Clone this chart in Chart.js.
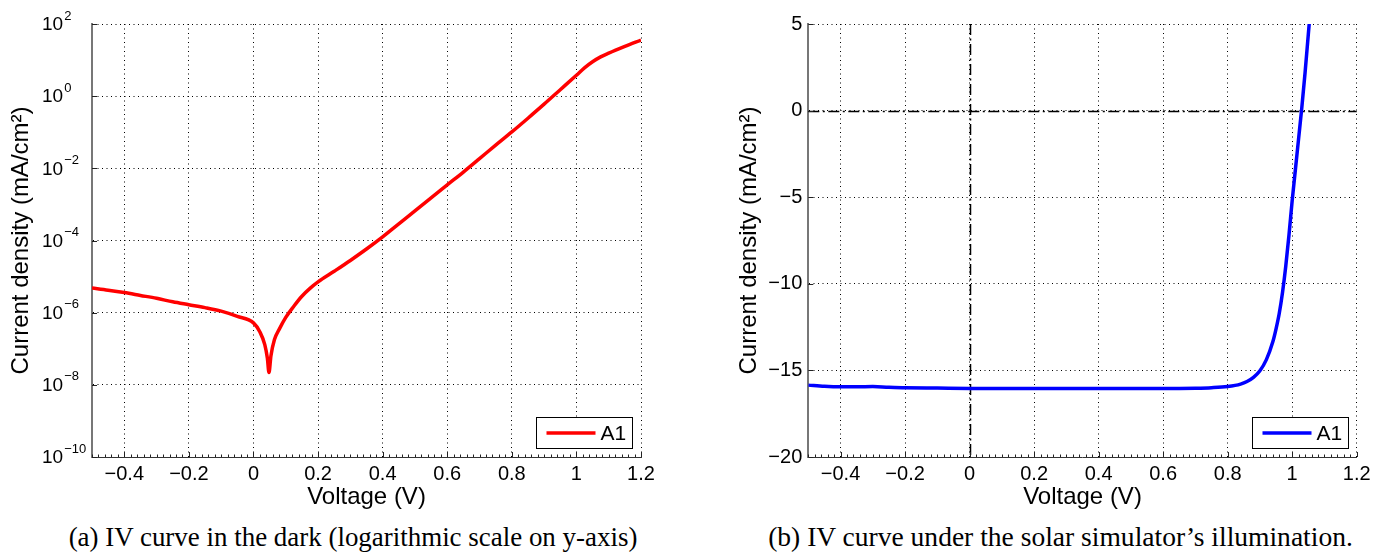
<!DOCTYPE html>
<html><head><meta charset="utf-8">
<script src="https://cdn.jsdelivr.net/npm/chart.js@4.4.0/dist/chart.umd.min.js"></script>
<style>
html,body{margin:0;padding:0;background:#fff;width:1380px;height:560px;overflow:hidden;}
.box{position:absolute;top:0;height:515px;}
#boxA{left:0;width:680px;}
#boxB{left:690px;width:690px;}
.cap{position:absolute;top:524px;white-space:nowrap;font-family:"Liberation Serif","Times New Roman",serif;font-size:22px;line-height:26px;color:#000;}
</style></head><body>
<div id="boxA" class="box"><canvas id="cA" width="680" height="515"></canvas></div>
<div id="boxB" class="box"><canvas id="cB" width="690" height="515"></canvas></div>
<div id="capA" class="cap">(a) IV curve in the dark (logarithmic scale on y-axis)</div>
<div id="capB" class="cap">(b) IV curve under the solar simulator’s illumination.</div>
<script>
// ---- data ----
const seriesLabel = 'A1';
const voltageDark = [-0.5,-0.45,-0.4,-0.35,-0.3,-0.25,-0.2,-0.15,-0.1,-0.05,0,0.02,0.035,0.043,0.048,0.054,0.065,0.08,0.1,0.125,0.15,0.175,0.2,0.25,0.3,0.35,0.4,0.45,0.5,0.55,0.6,0.65,0.7,0.75,0.8,0.85,0.9,0.95,1.0,1.025,1.05,1.075,1.1,1.15,1.2];
const currentDark = [4.8e-6,4.2e-6,3.6e-6,3.0e-6,2.5e-6,2.0e-6,1.66e-6,1.38e-6,1.1e-6,7.9e-7,5.2e-7,2.9e-7,1.3e-7,5.5e-8,2.2e-8,6.3e-8,1.8e-7,3.5e-7,7.4e-7,1.51e-6,2.85e-6,4.7e-6,7.1e-6,1.4e-5,2.8e-5,5.8e-5,1.26e-4,2.9e-4,6.6e-4,1.51e-3,3.47e-3,7.9e-3,1.86e-2,4.4e-2,0.102,0.245,0.6,1.51,3.8,6.1,9.0,12.3,15.6,24,36];
const voltageLight = [-0.5,-0.45,-0.4,-0.35,-0.3,-0.25,-0.2,-0.1,0,0.1,0.2,0.3,0.4,0.5,0.6,0.7,0.75,0.8,0.84,0.86,0.88,0.9,0.92,0.94,0.95,0.96,0.97,0.98,0.99,1.0,1.01,1.02,1.03,1.04,1.05,1.06];
const currentLight = [-15.85,-15.92,-15.95,-15.95,-15.93,-15.98,-16.0,-16.02,-16.04,-16.05,-16.05,-16.04,-16.04,-16.05,-16.05,-16.03,-16.0,-15.93,-15.79,-15.64,-15.4,-15.02,-14.38,-13.35,-12.6,-11.7,-10.5,-9.0,-7.2,-5.2,-3.4,-1.6,0.2,2.2,4.4,6.6];
const xTickValues = [-0.4,-0.2,0,0.2,0.4,0.6,0.8,1,1.2];
const logTickValues = [1e-10,1e-8,1e-6,1e-4,1e-2,1,100];
const linTickValues = [-20,-15,-10,-5,0,5];
const xMinorStep = 0.02;

// ---- styling helpers ----
const SANS = '"Liberation Sans", Arial, Helvetica, sans-serif';
const TICK_SIZE = 20, TITLE_SIZE = 24;
const minus = s => String(s).replace('-', '\u2212');
const pts = (xs, ys) => xs.map((v, i) => ({x: v, y: ys[i]}));

const deco = {
  id: 'deco',
  beforeDatasetsDraw(chart, args, opts) {
    if (!opts.refLines) return;
    const {ctx, chartArea: a, scales: {x, y}} = chart;
    ctx.save();
    ctx.strokeStyle = '#000'; ctx.lineWidth = 1.5; ctx.setLineDash([11, 3.5, 2, 3.5]);
    const y0 = Math.round(y.getPixelForValue(0)) + 0.5, x0 = Math.round(x.getPixelForValue(0)) + 0.5;
    ctx.beginPath(); ctx.moveTo(a.left, y0); ctx.lineTo(a.right, y0); ctx.stroke();
    ctx.beginPath(); ctx.moveTo(x0, a.top); ctx.lineTo(x0, a.bottom); ctx.stroke();
    ctx.restore();
  },
  afterDraw(chart, args, opts) {
    const {ctx, chartArea: a, scales: {x, y}} = chart;
    ctx.save();
    ctx.setLineDash([]);
    ctx.strokeStyle = '#222'; ctx.lineWidth = 1;
    ctx.beginPath();
    x.ticks.forEach(t => { const px = Math.round(x.getPixelForValue(t.value)) + 0.5; ctx.moveTo(px, a.bottom); ctx.lineTo(px, a.bottom - 5); });
    const n = Math.round((x.max - x.min) / xMinorStep);
    for (let i = 0; i <= n; i++) {
      const px = Math.round(x.getPixelForValue(x.min + i * xMinorStep)) + 0.5;
      ctx.moveTo(px, a.bottom); ctx.lineTo(px, a.bottom - 2.5);
    }
    y.ticks.forEach(t => { const py = Math.round(y.getPixelForValue(t.value)) + 0.5; ctx.moveTo(a.left, py); ctx.lineTo(a.left + 5, py); });
    ctx.stroke();

    if (opts.logLabels) {
      ctx.fillStyle = '#000'; ctx.textAlign = 'left'; ctx.textBaseline = 'middle';
      y.ticks.forEach(t => {
        const py = y.getPixelForValue(t.value);
        const e = Math.round(Math.log10(t.value));
        ctx.font = '19px ' + SANS;
        ctx.fillText('10', 42, py + 1);
        const w = ctx.measureText('10').width;
        ctx.font = '13px ' + SANS;
        ctx.fillText(minus(e), 42 + w + 1, py - 8);
      });
    }

    // legend box
    const ds = chart.data.datasets[0];
    const bw = 96, bh = 31;
    const bx = Math.round(a.right - 9 - bw) + 0.5, by = Math.round(a.bottom - 9 - bh) + 0.5;
    ctx.fillStyle = '#fff'; ctx.fillRect(bx, by, bw, bh);
    ctx.strokeStyle = '#000'; ctx.lineWidth = 1; ctx.strokeRect(bx, by, bw, bh);
    ctx.strokeStyle = ds.borderColor; ctx.lineWidth = 3.5;
    ctx.beginPath(); ctx.moveTo(bx + 10, by + bh / 2); ctx.lineTo(bx + 59, by + bh / 2); ctx.stroke();
    ctx.fillStyle = '#000'; ctx.font = '21px ' + SANS; ctx.textAlign = 'left'; ctx.textBaseline = 'middle';
    ctx.fillText(ds.label, bx + 64, by + bh / 2 + 1);
    ctx.restore();
  }
};

function xScale(titlePadBottom) {
  return {
    type: 'linear', min: -0.5, max: 1.2,
    afterBuildTicks: s => { s.ticks = xTickValues.map(v => ({value: v})); },
    afterFit: s => { s.height = 58; },
    grid: {color: '#000', lineWidth: 1, drawTicks: false},
    border: {display: true, color: '#333', width: 1, dash: [1, 3.5]},
    ticks: {padding: 5, color: '#000', font: {family: SANS, size: TICK_SIZE}, maxRotation: 0, autoSkip: false,
      callback: v => minus(+(+v).toFixed(1))},
    title: {display: true, text: 'Voltage (V)', color: '#000', font: {family: SANS, size: TITLE_SIZE}, padding: {top: 0, bottom: titlePadBottom}}
  };
}

function baseOptions(padRight, yScaleCfg, decoOpts) {
  return {
    responsive: false, animation: false, events: [],
    layout: {padding: {top: 24, right: padRight, left: 0, bottom: 0}},
    plugins: {legend: {display: false}, tooltip: {enabled: false}, deco: decoOpts},
    scales: {x: xScale(3), y: yScaleCfg}
  };
}

new Chart(document.getElementById('cA'), {
  type: 'line',
  data: {datasets: [{label: seriesLabel, data: pts(voltageDark, currentDark), borderColor: '#ff0000', borderWidth: 3.5,
    pointRadius: 0, cubicInterpolationMode: 'monotone', clip: 0, fill: false}]},
  options: baseOptions(39, {
    type: 'logarithmic', min: 1e-10, max: 100,
    afterBuildTicks: s => { s.ticks = logTickValues.map(v => ({value: v})); },
    afterFit: s => { s.width = 92; },
    grid: {color: '#000', lineWidth: 1, drawTicks: false},
    border: {display: true, color: '#777', width: 2, dash: [1, 3.5]},
    ticks: {display: false},
    title: {display: true, text: 'Current density (mA/cm²)', color: '#000', font: {family: SANS, size: TITLE_SIZE}, padding: {top: 7, bottom: 0}}
  }, {logLabels: true}),
  plugins: [deco]
});

new Chart(document.getElementById('cB'), {
  type: 'line',
  data: {datasets: [{label: seriesLabel, data: pts(voltageLight, currentLight), borderColor: '#0000ff', borderWidth: 3.5,
    pointRadius: 0, cubicInterpolationMode: 'monotone', clip: 0, fill: false}]},
  options: baseOptions(23.3, {
    type: 'linear', min: -20, max: 5,
    afterBuildTicks: s => { s.ticks = linTickValues.map(v => ({value: v})); },
    afterFit: s => { s.width = 118.3; },
    grid: {color: '#000', lineWidth: 1, drawTicks: false},
    border: {display: true, color: '#777', width: 2, dash: [1, 3.5]},
    ticks: {padding: 6, color: '#000', font: {family: SANS, size: TICK_SIZE}, callback: v => minus(v)},
    title: {display: true, text: 'Current density (mA/cm²)', color: '#000', font: {family: SANS, size: TITLE_SIZE}, padding: {top: 45, bottom: 0}}
  }, {refLines: true}),
  plugins: [deco]
});

function fitCap(id, targetW, centerX) {
  const el = document.getElementById(id);
  const w = el.getBoundingClientRect().width;
  el.style.fontSize = (22 * targetW / w) + 'px';
  const w2 = el.getBoundingClientRect().width;
  el.style.left = (centerX - w2 / 2) + 'px';
}
fitCap('capA', 569, 353);
fitCap('capB', 585, 1060.5);
</script>
</body></html>
